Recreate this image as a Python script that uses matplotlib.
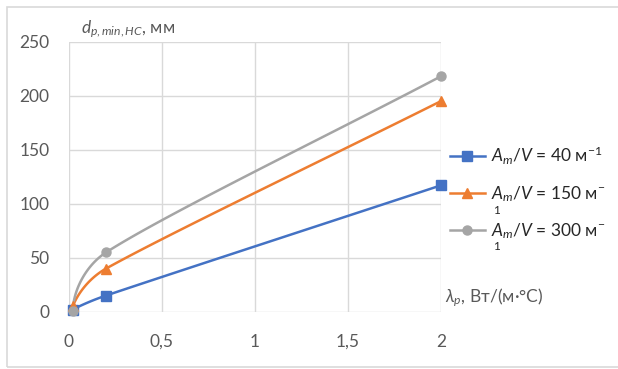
import numpy as np
import matplotlib.pyplot as plt
from matplotlib.lines import Line2D
from matplotlib.patches import Rectangle
from matplotlib.ticker import FuncFormatter

plt.rcParams['font.family'] = ['Lato', 'DejaVu Sans']
plt.rcParams['mathtext.fontset'] = 'custom'
plt.rcParams['mathtext.rm'] = 'Lato'
plt.rcParams['mathtext.it'] = 'Lato:italic'

# data
lam = [0.02, 0.2, 2.0]
d_40 = [2, 15, 117]
d_150 = [5, 40, 195]
d_300 = [0.5, 55, 218]
labels = [r'$A_m/V$ = 40 м$^{-1}$', r'$A_m/V$ = 150 м$^{-}$', r'$A_m/V$ = 300 м$^{-}$']
xticks = [0, 0.5, 1, 1.5, 2]
yticks = [0, 50, 100, 150, 200, 250]

colors = ['#4472C4', '#ED7D31', '#A5A5A5']
markers = ['s', '^', 'o']
msizes = [6.5, 7, 6.5]


def smooth_xy(ax, xs, ys, n=60):
    # excel-like smoothed line, built in pixel space
    P = ax.transData.transform(np.column_stack([xs, ys]))
    k = len(P)
    T = np.zeros_like(P)
    H = np.zeros(k)
    for i in range(1, k - 1):
        d = P[i + 1] - P[i - 1]
        T[i] = d / np.linalg.norm(d)
        H[i] = np.linalg.norm(d) / 6
    c = (P[1] - P[0]) / np.linalg.norm(P[1] - P[0])
    T[0] = 2 * np.dot(c, T[1]) * c - T[1]
    T[-1] = (P[-1] - P[-2]) / np.linalg.norm(P[-1] - P[-2])
    H[0] = H[-1] = 1e9
    pts = []
    t = np.linspace(0, 1, n)[:, None]
    for i in range(k - 1):
        L = np.linalg.norm(P[i + 1] - P[i])
        a, b = P[i], P[i + 1]
        c1 = a + T[i] * min(L / 3, H[i])
        c2 = b - T[i + 1] * min(L / 3, H[i + 1])
        seg = (1 - t) ** 3 * a + 3 * (1 - t) ** 2 * t * c1 + 3 * (1 - t) * t ** 2 * c2 + t ** 3 * b
        pts.append(seg)
    pts = np.vstack(pts)
    out = ax.transData.inverted().transform(pts)
    return out[:, 0], out[:, 1]


fig = plt.figure(figsize=(6.18, 3.69), dpi=100)
fig.patches.append(Rectangle((7 / 618, 2 / 369), 1.0, 360 / 369, transform=fig.transFigure,
                             fill=False, edgecolor='#D9D9D9', lw=1.2))
ax = fig.add_axes([69 / 618, 57.3 / 369, 372 / 618, 270 / 369])
ax.set_xlim(0, 2)
ax.set_ylim(0, 250)
ax.set_xticks(xticks)
ax.set_yticks(yticks)
ax.xaxis.set_major_formatter(FuncFormatter(lambda v, p: ('%g' % v).replace('.', ',')))
for s in ax.spines.values():
    s.set_visible(False)
ax.grid(True, color='#D9D9D9', lw=1)
ax.set_axisbelow(True)
ax.tick_params(length=0, labelsize=12.5, colors='#595959')
ax.tick_params(axis='x', pad=16)
ax.tick_params(axis='y', pad=14)

handles = []
for ys, col, m, ms in zip([d_40, d_150, d_300], colors, markers, msizes):
    sx, sy = smooth_xy(ax, lam, ys)
    ax.plot(sx, sy, color=col, lw=1.8, clip_on=False, zorder=3)
    ax.plot(lam, ys, ls='none', marker=m, ms=ms, color=col, clip_on=False, zorder=4)
    handles.append(Line2D([], [], color=col, lw=1.8, marker=m, ms=ms))

fig.text(81 / 618, 1 - 33 / 369, r'$d_{p,min,HC}$, мм', fontsize=12.5, color='#595959', va='baseline')
fig.text(445 / 618, 1 - 298 / 369, r'$\lambda_p$, Вт/(м·°С)', fontsize=12.5, color='#595959', va='center')

leg = fig.legend(handles, labels, loc='upper left', bbox_to_anchor=(450 / 618, 1 - 145 / 369),
                 frameon=False, fontsize=12.5, handlelength=2.0, handletextpad=0.35,
                 labelspacing=1.0, borderpad=0, borderaxespad=0)
for t in leg.get_texts():
    t.set_color('#262626')
fig.text(493 / 618, 1 - 211 / 369, '1', fontsize=8.5, color='#262626', va='center')
fig.text(493 / 618, 1 - 246 / 369, '1', fontsize=8.5, color='#262626', va='center')

fig.savefig('out.png', dpi=100)
